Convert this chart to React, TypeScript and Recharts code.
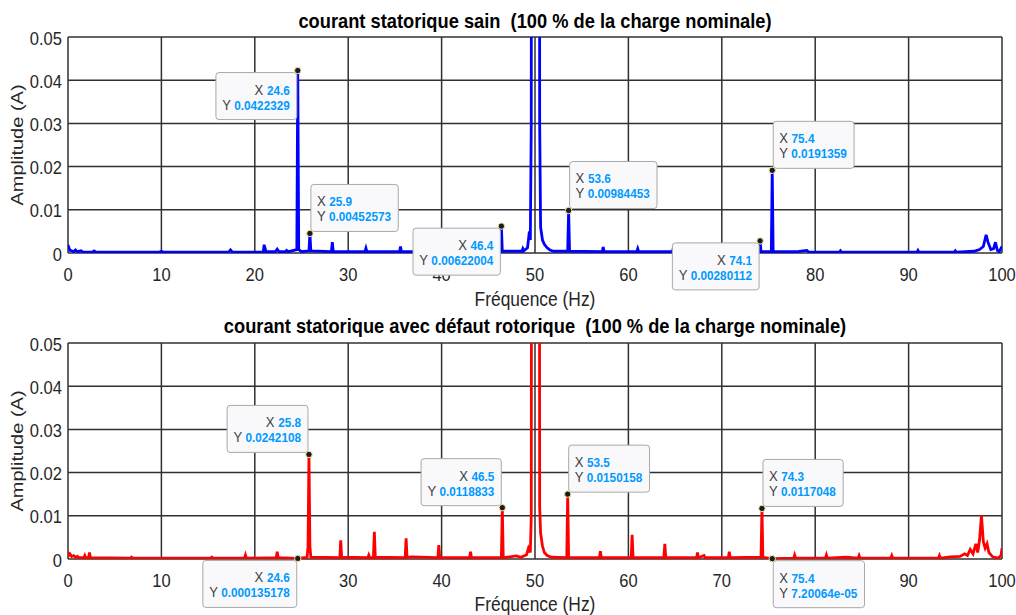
import React from 'react'
import { LineChart, Line, XAxis, YAxis, CartesianGrid, ReferenceDot } from 'recharts'

const FONT = "'Liberation Sans', Arial, Helvetica, sans-serif"
const INK = '#262626'
// the original figure is squeezed horizontally, text included
const SQUEEZE = 0.87
const PLOT_H = 216

const xTicks = [0, 10, 20, 30, 40, 50, 60, 70, 80, 90, 100]
const yTicks = [0, 0.01, 0.02, 0.03, 0.04, 0.05]

const titleSain = 'courant statorique sain  (100 % de la charge nominale)'
const titleDefaut = 'courant statorique avec défaut rotorique  (100 % de la charge nominale)'
const xLabel = 'Fréquence (Hz)'
const yLabel = 'Amplitude (A)'

// spectre du courant, moteur sain : [fréquence Hz, amplitude A]
const sainSpectrum: [number, number][] = [
  [0, 0.0019], [0.1, 0.0012], [0.2, 0.0006], [0.4, 0.0005], [0.6, 0.0003], [0.8, 0.0007],
  [1.0, 0.0003], [1.4, 0.0005], [1.6, 0.0002], [2.6, 0.0002], [2.8, 0.0005], [3.0, 0.0002],
  [9.8, 0.0002], [10.0, 0.0004], [10.2, 0.0002], [17.2, 0.0002], [17.4, 0.0007], [17.6, 0.0002],
  [20.9, 0.0002], [21.0, 0.0019], [21.2, 0.0003], [22.2, 0.0003], [22.4, 0.0009], [22.6, 0.0003],
  [23.3, 0.0003], [23.4, 0.0006], [23.6, 0.0003], [24.5, 0.0008], [24.6, 0.0422329], [24.7, 0.0008],
  [25.0, 0.0003], [25.8, 0.0005], [25.9, 0.00452573], [26.0, 0.0005], [28.2, 0.0003], [28.3, 0.0025],
  [28.4, 0.0003], [31.8, 0.0003], [31.9, 0.0011], [32.0, 0.0003], [35.5, 0.0003], [35.6, 0.0015],
  [35.7, 0.0003], [46.3, 0.0003], [46.4, 0.00622004], [46.5, 0.0004], [48.6, 0.0004], [48.7, 0.001],
  [48.8, 0.0005], [49.2, 0.0012], [49.4, 0.005], [49.5, 0.003], [49.6, 0.03], [49.7, 0.4],
  [50.0, 1.2], [50.4, 0.4], [50.5, 0.03], [50.6, 0.006], [50.8, 0.003], [51.0, 0.002],
  [51.3, 0.0012], [51.6, 0.0007], [52.0, 0.0004], [53.5, 0.0004], [53.6, 0.00984453], [53.7, 0.0004],
  [57.2, 0.0003], [57.3, 0.0014], [57.4, 0.0003], [60.9, 0.0003], [61.0, 0.001], [61.1, 0.0003],
  [64.7, 0.0003], [64.8, 0.001], [64.9, 0.0003], [74.0, 0.0003], [74.1, 0.00280112], [74.2, 0.0003],
  [75.3, 0.0003], [75.4, 0.0191359], [75.5, 0.0003], [78.2, 0.0003], [78.3, 0.0004], [79.1, 0.0006],
  [79.3, 0.0002], [82.6, 0.0002], [82.7, 0.0005], [82.8, 0.0002], [90.9, 0.0002], [91.0, 0.0006],
  [91.1, 0.0002], [94.9, 0.0002], [95.0, 0.0005], [95.1, 0.0002], [97.0, 0.0004], [97.6, 0.0008],
  [98.0, 0.0015], [98.3, 0.0042], [98.5, 0.0025], [98.8, 0.0008], [99.1, 0.001], [99.3, 0.0025],
  [99.5, 0.0006], [99.7, 0.0003], [100.0, 0.0015],
]

// spectre du courant, barre rotorique cassée
const defautSpectrum: [number, number][] = [
  [0, 0.0015], [0.1, 0.0009], [0.2, 0.0012], [0.4, 0.0006], [0.6, 0.0008], [0.8, 0.0004],
  [1.0, 0.0006], [1.2, 0.0003], [1.7, 0.0003], [1.8, 0.0008], [1.9, 0.0003], [2.2, 0.0003],
  [2.3, 0.0015], [2.4, 0.0003], [6.7, 0.0002], [6.8, 0.0004], [6.9, 0.0002], [15.3, 0.0002],
  [15.4, 0.0004], [15.5, 0.0002], [18.9, 0.0002], [19.0, 0.0009], [19.1, 0.0002], [22.3, 0.0003],
  [22.4, 0.0017], [22.5, 0.0003], [24.6, 0.000135178], [25.6, 0.0004], [25.7, 0.003], [25.8, 0.0242108],
  [25.9, 0.003], [26.0, 0.0004], [29.1, 0.0003], [29.2, 0.0043], [29.3, 0.0004], [32.1, 0.0003],
  [32.2, 0.0009], [32.3, 0.0003], [32.7, 0.0003], [32.8, 0.0063], [32.9, 0.0004], [36.1, 0.0003],
  [36.2, 0.0048], [36.3, 0.0004], [36.8, 0.0005], [39.6, 0.0003], [39.7, 0.0032], [39.8, 0.0003],
  [43.0, 0.0003], [43.1, 0.0017], [43.2, 0.0003], [46.4, 0.0003], [46.5, 0.0118833], [46.6, 0.0003],
  [48.0, 0.0007], [48.5, 0.0004], [49.1, 0.001], [49.3, 0.0025], [49.5, 0.0015], [49.6, 0.01],
  [49.7, 0.3], [50.0, 1.2], [50.4, 0.3], [50.5, 0.012], [50.6, 0.006], [50.8, 0.003],
  [51.0, 0.0015], [51.3, 0.0008], [51.8, 0.0004], [53.4, 0.0003], [53.5, 0.0150158], [53.6, 0.0003],
  [56.9, 0.0003], [57.0, 0.0018], [57.1, 0.0003], [60.3, 0.0003], [60.4, 0.0056], [60.5, 0.0003],
  [63.8, 0.0003], [63.9, 0.0035], [64.0, 0.0003], [67.3, 0.0003], [67.4, 0.0015], [67.5, 0.0003],
  [68.1, 0.0008], [68.2, 0.0003], [70.7, 0.0003], [70.8, 0.0017], [70.9, 0.0003], [74.2, 0.0004],
  [74.3, 0.0117048], [74.4, 0.0004], [75.4, 0.0000720064], [77.7, 0.0002], [77.8, 0.0009], [77.9, 0.0002],
  [81.1, 0.0002], [81.2, 0.0009], [81.3, 0.0002], [83.3, 0.0004], [84.6, 0.0002], [84.7, 0.0008],
  [84.8, 0.0002], [88.1, 0.0002], [88.2, 0.0008], [88.3, 0.0002], [93.2, 0.0002], [93.3, 0.0008],
  [93.4, 0.0002], [94.5, 0.0005], [95.5, 0.0006], [96.0, 0.0012], [96.3, 0.0008], [96.6, 0.0022],
  [96.9, 0.0012], [97.2, 0.0035], [97.4, 0.0015], [97.6, 0.0045], [97.8, 0.0101], [98.0, 0.004],
  [98.2, 0.0025], [98.4, 0.0035], [98.6, 0.0015], [99.0, 0.0005], [99.6, 0.0002], [99.9, 0.0008],
  [100.0, 0.0025],
]

// data tips (curseurs)
const sainTipsX = [24.6, 25.9, 46.4, 53.6, 74.1, 75.4]
const sainTipsY = [0.0422329, 0.00452573, 0.00622004, 0.00984453, 0.00280112, 0.0191359]
const defautTipsX = [25.8, 24.6, 46.5, 53.5, 74.3, 75.4]
const defautTipsY = [0.0242108, 0.000135178, 0.0118833, 0.0150158, 0.0117048, 7.20064e-5]

// box side relative to the point: t/b = above/below, l/r = left/right
const sainTipSide = ['bl', 'tr', 'bl', 'tr', 'bl', 'tr']
const defautTipSide = ['tl', 'bl', 'tl', 'tr', 'tr', 'br']

function fmtTip(v: number) {
  if (v !== 0 && Math.abs(v) < 1e-4) {
    const [m, e] = v.toExponential(5).split('e')
    const n = parseInt(e, 10)
    return `${m}e${n < 0 ? '-' : '+'}${String(Math.abs(n)).padStart(2, '0')}`
  }
  return String(Number(v.toPrecision(6)))
}

let ctx: CanvasRenderingContext2D | null = null
function measure(text: string, font: string) {
  if (!ctx) ctx = document.createElement('canvas').getContext('2d')
  if (!ctx) return text.length * 7
  ctx.font = font
  return ctx.measureText(text).width
}
const tipLineWidth = (k: string, v: string) =>
  measure(k + ' ', `15px ${FONT}`) + measure(v, `bold 13.5px ${FONT}`)

function DataTip({ cx, cy, xv, yv, side }: any) {
  const lines = [['X', String(xv)], ['Y', fmtTip(yv)]]
  const w = Math.max(...lines.map(([k, v]) => tipLineWidth(k, v))) * SQUEEZE + 13
  const h = 47
  const onLeft = side[1] === 'l'
  const left = onLeft ? cx - 1 - w : cx + 1
  const top = side[0] === 't' ? cy - 2 - h : cy + 2
  const tx = onLeft ? left + w - 7 : left + 6
  return (
    <g>
      <rect x={left} y={top} width={w} height={h} rx={3} fill="#f9f9fc" stroke="#a8a8a8" strokeWidth={1} />
      {lines.map(([k, v], i) => (
        <text
          key={k}
          transform={`translate(${tx},${top + 22 + i * 15}) scale(${SQUEEZE},1)`}
          textAnchor={onLeft ? 'end' : 'start'}
          fontFamily={FONT}
        >
          <tspan fontSize={15} fill="#404040">{`${k} `}</tspan>
          <tspan fontSize={13.5} fontWeight="bold" fill="#0099ff">{v}</tspan>
        </text>
      ))}
      <circle cx={cx} cy={cy} r={3.2} fill="#1c1c1c" stroke="#f2eab0" strokeWidth={1} />
    </g>
  )
}

const XTick = ({ x, y, payload }: any) => (
  <text
    transform={`translate(${x},${y + 27.5}) scale(${SQUEEZE},1)`}
    textAnchor="middle"
    fontSize={19}
    fontFamily={FONT}
    fill={INK}
  >
    {payload.value}
  </text>
)

const YTick = ({ x, y, payload }: any) => (
  <text
    transform={`translate(${x - 6},${y + 7.5}) scale(${SQUEEZE},1)`}
    textAnchor="end"
    fontSize={19}
    fontFamily={FONT}
    fill={INK}
  >
    {payload.value}
  </text>
)

const renderXLabel = (dy: number) => (props: any) => {
  const vb = props.viewBox || { x: 68, y: 253, width: 934 }
  return (
    <text
      transform={`translate(${vb.x + vb.width / 2},${vb.y + dy}) scale(${SQUEEZE},1)`}
      textAnchor="middle"
      fontSize={20}
      fontFamily={FONT}
      fill={INK}
    >
      {xLabel}
    </text>
  )
}

const renderYLabel = (props: any) => {
  const vb = props.viewBox || { x: 0, y: 37, height: PLOT_H }
  return (
    <text
      transform={`translate(22.5,${vb.y + vb.height / 2}) scale(${SQUEEZE},1) rotate(-90)`}
      textAnchor="middle"
      fontSize={20}
      fontFamily={FONT}
      fill={INK}
    >
      {yLabel}
    </text>
  )
}

interface PanelProps {
  title: string
  spectrum: [number, number][]
  color: string
  tipsX: number[]
  tipsY: number[]
  sides: string[]
  top: number
  height: number
  plotTop: number
  titleBaseline: number
  labelDy: number
}

function SpectrumPanel({ title, spectrum, color, tipsX, tipsY, sides, top, height, plotTop, titleBaseline, labelDy }: PanelProps) {
  const rows = spectrum.map(([f, a]) => ({ f, a }))
  const axisH = height - plotTop - PLOT_H
  return (
    <div style={{ position: 'absolute', left: 0, top, width: 1016, height }}>
      <div style={{ position: 'absolute', left: 0, top: 0 }}>
        <LineChart
          width={1016}
          height={height}
          data={rows}
          margin={{ top: plotTop, right: 14, bottom: 0, left: 0 }}
        >
          <CartesianGrid stroke="#303030" strokeWidth={1.5} />
          <XAxis
            dataKey="f"
            type="number"
            domain={[0, 100]}
            ticks={xTicks}
            interval={0}
            allowDataOverflow
            axisLine={false}
            tickLine={false}
            tickSize={0}
            tickMargin={0}
            tick={<XTick />}
            height={axisH}
            label={renderXLabel(labelDy)}
          />
          <YAxis
            type="number"
            domain={[0, 0.05]}
            ticks={yTicks}
            interval={0}
            allowDataOverflow
            axisLine={false}
            tickLine={false}
            tickSize={0}
            tickMargin={0}
            tick={<YTick />}
            width={68}
            label={renderYLabel}
          />
          <Line
            type="linear"
            dataKey="a"
            stroke={color}
            strokeWidth={2.8}
            dot={false}
            activeDot={false}
            isAnimationActive={false}
          />
        </LineChart>
      </div>
      {/* data tips sit on a second, axis-less layer so they cover the tick labels */}
      <div style={{ position: 'absolute', left: 0, top: 0 }}>
        <LineChart
          width={1016}
          height={height}
          data={rows}
          margin={{ top: plotTop, right: 14, bottom: axisH, left: 68 }}
        >
          <XAxis hide dataKey="f" type="number" domain={[0, 100]} allowDataOverflow />
          <YAxis hide type="number" domain={[0, 0.05]} allowDataOverflow />
          {tipsX.map((xv, i) => (
            <ReferenceDot
              key={i}
              x={xv}
              y={tipsY[i]}
              r={3}
              ifOverflow="visible"
              shape={(p: any) => <DataTip cx={p.cx} cy={p.cy} xv={xv} yv={tipsY[i]} side={sides[i]} />}
            />
          ))}
        </LineChart>
      </div>
      <div
        style={{
          position: 'absolute',
          left: 535,
          top: titleBaseline - 18.5,
          transform: `translateX(-50%) scaleX(${SQUEEZE})`,
          whiteSpace: 'pre',
          fontFamily: FONT,
          fontWeight: 'bold',
          fontSize: 21,
          lineHeight: '21px',
          color: '#000',
        }}
      >
        {title}
      </div>
    </div>
  )
}

export default function App() {
  return (
    <div style={{ position: 'absolute', left: 0, top: 0, width: 1016, height: 615, background: '#fff', overflow: 'hidden' }}>
      <SpectrumPanel
        title={titleSain}
        spectrum={sainSpectrum}
        color="#0000ff"
        tipsX={sainTipsX}
        tipsY={sainTipsY}
        sides={sainTipSide}
        top={0}
        height={320}
        plotTop={37}
        titleBaseline={28}
        labelDy={53}
      />
      <SpectrumPanel
        title={titleDefaut}
        spectrum={defautSpectrum}
        color="#ff0000"
        tipsX={defautTipsX}
        tipsY={defautTipsY}
        sides={defautTipSide}
        top={307}
        height={308}
        plotTop={36}
        titleBaseline={26}
        labelDy={52}
      />
    </div>
  )
}
